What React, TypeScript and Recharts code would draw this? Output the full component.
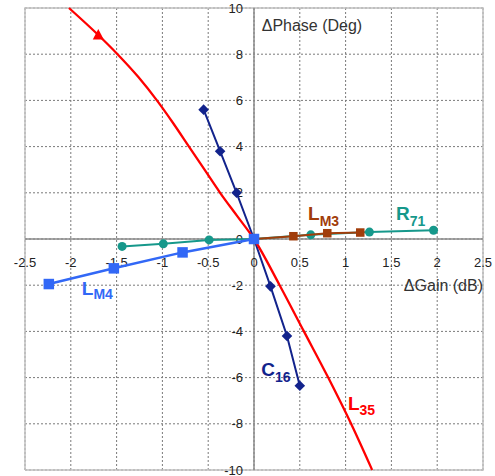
import React from 'react';
import { ScatterChart, Scatter, XAxis, YAxis, CartesianGrid } from 'recharts';

// ---- ticks ----
const X_TICKS = [-2.5, -2, -1.5, -1, -0.5, 0, 0.5, 1, 1.5, 2, 2.5];
const Y_TICKS = [-10, -8, -6, -4, -2, 0, 2, 4, 6, 8, 10];
const X_TICK_LABELS = ['-2.5', '-2', '-1.5', '-1', '-0.5', '0', '0.5', '1', '1.5', '2', '2.5'];
const Y_TICK_LABELS = ['-10', '-8', '-6', '-4', '-2', '0', '2', '4', '6', '8', '10'];

// ---- series (x = ΔGain dB, y = ΔPhase deg) ----
const L35_X = [-2.02, -1.70, -1.49, -1.26, -1.06, -0.88, -0.71, -0.54, -0.37, -0.185, 0, 0.28, 0.545, 0.81, 1.06, 1.29];
const L35_Y = [10, 8.83, 8, 7, 6, 5, 4, 3, 2, 1, 0, -2, -4, -6, -8, -10];
const L35_MARKER_INDEX = 1;

const C16_X = [-0.55, -0.37, -0.19, 0, 0.18, 0.36, 0.5];
const C16_Y = [5.6, 3.8, 2.0, 0, -2.05, -4.2, -6.35];

const LM4_X = [-2.24, -1.53, -0.78, 0];
const LM4_Y = [-1.95, -1.27, -0.58, 0];

const LM3_X = [0, 0.43, 0.8, 1.16];
const LM3_Y = [0, 0.12, 0.25, 0.28];

const R71_X = [-1.44, -0.99, -0.49, 0, 0.62, 1.26, 1.96];
const R71_Y = [-0.32, -0.21, -0.04, 0, 0.18, 0.3, 0.38];

// ---- colours ----
const RED = '#ff0000';
const NAVY = '#12238c';
const BLUE = '#3268f6';
const BROWN = '#a13d0b';
const TEAL = '#16988b';

const FONT = '"Liberation Sans", Arial, sans-serif';

const W = 495;
const H = 476;

type P = { x: number; y: number };
const zip = (xs: number[], ys: number[]): P[] => xs.map((x, i) => ({ x, y: ys[i] }));

const xMin = X_TICKS[0];
const xMax = X_TICKS[X_TICKS.length - 1];
const yMin = Y_TICKS[0];
const yMax = Y_TICKS[Y_TICKS.length - 1];

const xAxisLine: P[] = [{ x: xMin, y: 0 }, { x: xMax, y: 0 }];
const yAxisLine: P[] = [{ x: 0, y: yMin }, { x: 0, y: yMax }];
const borderLine: P[] = [
  { x: xMin, y: yMin },
  { x: xMax, y: yMin },
  { x: xMax, y: yMax },
  { x: xMin, y: yMax },
  { x: xMin, y: yMin },
];

const xTickPts = X_TICKS.map((v, i) => ({ x: v, y: 0, label: X_TICK_LABELS[i] }));
const yTickPts = Y_TICKS.map((v, i) => ({ x: 0, y: v, label: Y_TICK_LABELS[i] }));

// annotation anchors (data coordinates)
const LABELS = [
  { x: -1.88, y: -2.44, main: 'L', sub: 'M4', color: BLUE, dy: 4 },
  { x: 0.08, y: -5.91, main: 'C', sub: '16', color: NAVY, dy: 6 },
  { x: 1.025, y: -7.39, main: 'L', sub: '35', color: RED, dy: 5 },
  { x: 0.59, y: 0.83, main: 'L', sub: 'M3', color: BROWN, dy: 6 },
  { x: 1.55, y: 0.83, main: 'R', sub: '71', color: TEAL, dy: 6 },
];
const TITLE_Y = [{ x: 0.084, y: 9.02, text: '\u0394Phase (Deg)' }];
const TITLE_X = [{ x: 2.5, y: -2.27, text: '\u0394Gain (dB)' }];

const none = () => <g />;

const square = (size: number, color: string) => (p: any) => (
  <rect x={p.cx - size / 2} y={p.cy - size / 2} width={size} height={size} fill={color} />
);
const circle = (r: number, color: string) => (p: any) => <circle cx={p.cx} cy={p.cy} r={r} fill={color} />;
const diamond = (h: number, color: string) => (p: any) => (
  <polygon
    points={`${p.cx},${p.cy - h} ${p.cx + h},${p.cy} ${p.cx},${p.cy + h} ${p.cx - h},${p.cy}`}
    fill={color}
  />
);
const triangle = (s: number, color: string) => (p: any) => (
  <polygon
    points={`${p.cx},${p.cy - s * 0.55} ${p.cx + s / 2},${p.cy + s * 0.4} ${p.cx - s / 2},${p.cy + s * 0.4}`}
    fill={color}
  />
);

const xTickShape = (p: any) => (
  <text x={p.cx} y={p.cy + 27.5} textAnchor="middle" fontFamily={FONT} fontSize={13} fill="#222">
    {p.payload.label}
  </text>
);
const yTickShape = (p: any) => (
  <text x={p.cx - 11} y={p.cy + 4.6} textAnchor="end" fontFamily={FONT} fontSize={13} fill="#222">
    {p.payload.label}
  </text>
);
const seriesLabelShape = (p: any) => {
  const d = p.payload;
  return (
    <text x={p.cx} y={p.cy} fill={d.color} fontFamily={FONT} fontWeight="bold" fontSize={19}>
      {d.main}
      <tspan fontSize={14} dy={d.dy}>
        {d.sub}
      </tspan>
    </text>
  );
};
const titleStartShape = (p: any) => (
  <text x={p.cx} y={p.cy} fontFamily={FONT} fontSize={16} fill="#333">
    {p.payload.text}
  </text>
);
const titleEndShape = (p: any) => (
  <text x={p.cx} y={p.cy} textAnchor="end" fontFamily={FONT} fontSize={16} fill="#333">
    {p.payload.text}
  </text>
);

export default function App() {
  const l35 = zip(L35_X, L35_Y);
  return (
    <div style={{ position: 'absolute', left: 0, top: 0, width: W, height: H, background: '#fff' }}>
      <ScatterChart width={W} height={H} margin={{ top: 8, right: 12, bottom: 6, left: 25 }}>
        <XAxis type="number" dataKey="x" domain={[xMin, xMax]} ticks={X_TICKS} hide />
        <YAxis type="number" dataKey="y" domain={[yMin, yMax]} ticks={Y_TICKS} hide />
        <CartesianGrid stroke="#7a7a7a" strokeDasharray="2 2" strokeWidth={1} />

        <Scatter data={borderLine} line={{ stroke: '#c0c0c0', strokeWidth: 1.5 }} shape={none} isAnimationActive={false} />
        <Scatter data={xAxisLine} line={{ stroke: '#8a8a8a', strokeWidth: 1.5 }} shape={none} isAnimationActive={false} />
        <Scatter data={yAxisLine} line={{ stroke: '#8a8a8a', strokeWidth: 1.5 }} shape={none} isAnimationActive={false} />

        <Scatter data={xTickPts} shape={xTickShape} isAnimationActive={false} />
        <Scatter data={yTickPts} shape={yTickShape} isAnimationActive={false} />

        <Scatter data={zip(R71_X, R71_Y)} line={{ stroke: TEAL, strokeWidth: 2 }} shape={circle(4.5, TEAL)} isAnimationActive={false} />
        <Scatter data={zip(LM3_X, LM3_Y)} line={{ stroke: BROWN, strokeWidth: 2 }} shape={square(8.5, BROWN)} isAnimationActive={false} />
        <Scatter data={zip(C16_X, C16_Y)} line={{ stroke: NAVY, strokeWidth: 2 }} shape={diamond(5.3, NAVY)} isAnimationActive={false} />
        <Scatter
          data={l35}
          line={{ stroke: RED, strokeWidth: 2.3 }}
          lineJointType="monotoneX"
          shape={none}
          isAnimationActive={false}
        />
        <Scatter data={[l35[L35_MARKER_INDEX]]} shape={triangle(11, RED)} isAnimationActive={false} />
        <Scatter data={zip(LM4_X, LM4_Y)} line={{ stroke: BLUE, strokeWidth: 2.5 }} shape={square(10.5, BLUE)} isAnimationActive={false} />

        <Scatter data={LABELS} shape={seriesLabelShape} isAnimationActive={false} />
        <Scatter data={TITLE_Y} shape={titleStartShape} isAnimationActive={false} />
        <Scatter data={TITLE_X} shape={titleEndShape} isAnimationActive={false} />
      </ScatterChart>
    </div>
  );
}
